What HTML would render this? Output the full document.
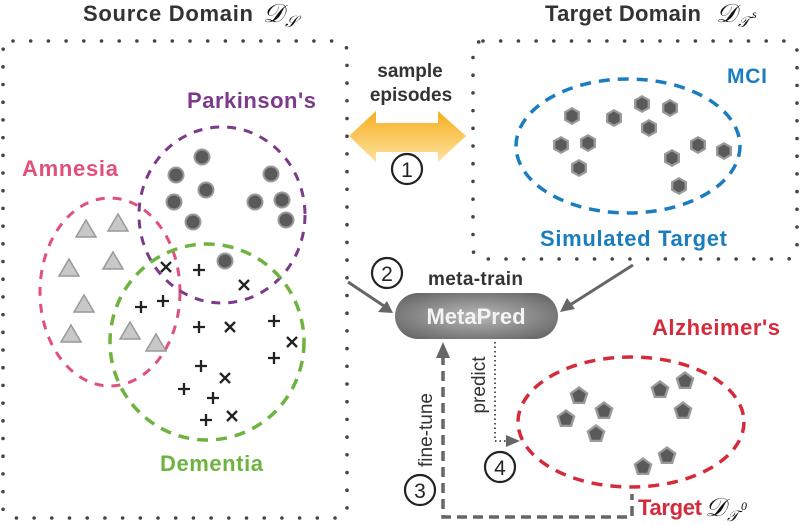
<!DOCTYPE html>
<html><head><meta charset="utf-8"><style>
html,body{margin:0;padding:0;background:#fff;}
svg{display:block;}
text{font-family:"Liberation Sans",sans-serif;font-weight:bold;}
.m{font-family:"Liberation Serif",serif;font-style:italic;font-weight:normal;}
.n{font-weight:normal;}
</style></head><body>
<svg width="800" height="525" viewBox="0 0 800 525" xmlns="http://www.w3.org/2000/svg">
<defs>
<linearGradient id="og" x1="0" y1="0" x2="0" y2="1"><stop offset="0" stop-color="#f6ad1e"/><stop offset="1" stop-color="#fde3a0"/></linearGradient>
<radialGradient id="pg" cx="0.5" cy="0.5" r="0.6"><stop offset="0" stop-color="#b8b8b8"/><stop offset="1" stop-color="#6a6a6a"/></radialGradient>
<g id="hex"><polygon points="0,-9 8,-4.5 8,4.5 0,9 -8,4.5 -8,-4.5" fill="#9a9a9a"/><polygon points="0,-6.5 5.6,-3.2 5.6,3.2 0,6.5 -5.6,3.2 -5.6,-3.2" fill="#5a5a5a"/></g>
<g id="pent"><polygon points="0,-10 9.5,-3 6,8 -6,8 -9.5,-3" fill="#9a9a9a"/><polygon points="0,-7 6.7,-2.2 4.2,5.8 -4.2,5.8 -6.7,-2.2" fill="#5a5a5a"/></g>
<g id="dot"><circle r="8.5" fill="#9a9a9a"/><circle r="6.5" fill="#5a5a5a"/></g>
<g id="tri"><polygon points="0,-9 10,8 -10,8" fill="#c8c8c8" stroke="#999" stroke-width="1.5"/></g>
<g id="pl"><path d="M-6,0H6M0,-6V6" stroke="#222" stroke-width="2.3"/></g>
<g id="xx"><path d="M-5,-5L5,5M5,-5L-5,5" stroke="#222" stroke-width="2.3"/></g>
</defs>

<rect x="3" y="41" width="344" height="477" rx="10" fill="none" stroke="#444" stroke-width="3.6" stroke-linecap="round" stroke-dasharray="0 17.7"/>
<rect x="473" y="41" width="324" height="218" rx="10" fill="none" stroke="#444" stroke-width="3.6" stroke-linecap="round" stroke-dasharray="0 17.7"/>

<text x="83" y="21" font-size="22" fill="#333" textLength="170">Source Domain</text>
<text x="263" y="22" class="m" font-size="26" fill="#111">𝒟</text><text x="285" y="27" class="m" font-size="16" fill="#111">𝒮</text>
<text x="545" y="21" font-size="22" fill="#333" textLength="156">Target Domain</text>
<text x="716" y="22" class="m" font-size="26" fill="#111">𝒟</text><text x="738" y="27" class="m" font-size="15" fill="#111">𝒯</text><text x="752" y="18" class="m" font-size="12" fill="#111">s</text>

<polygon points="349,136 376,111 376,123 438,123 438,111 466,136 438,162 438,152 376,152 376,162" fill="url(#og)"/>
<text x="410" y="77" font-size="19" fill="#333" text-anchor="middle">sample</text>
<text x="411" y="101" font-size="19" fill="#333" text-anchor="middle">episodes</text>

<ellipse cx="110" cy="292" rx="70" ry="94" fill="none" stroke="#e0507a" stroke-width="3" stroke-dasharray="9 8"/>
<ellipse cx="222" cy="215" rx="83" ry="88" fill="none" stroke="#7b3a8a" stroke-width="3" stroke-dasharray="9 8"/>
<ellipse cx="207" cy="342" rx="97" ry="98" fill="none" stroke="#6db33f" stroke-width="3.5" stroke-dasharray="11 8"/>

<text x="187" y="108" font-size="22" fill="#7b3a8a" textLength="129">Parkinson's</text>
<text x="22" y="176" font-size="22" fill="#e0507a" textLength="96">Amnesia</text>
<text x="160" y="471" font-size="22" fill="#6db33f" textLength="103">Dementia</text>

<use href="#dot" x="202" y="157"/><use href="#dot" x="176" y="175"/><use href="#dot" x="206" y="190"/>
<use href="#dot" x="174" y="202"/><use href="#dot" x="193" y="222"/><use href="#dot" x="271" y="174"/>
<use href="#dot" x="255" y="202"/><use href="#dot" x="282" y="200"/><use href="#dot" x="286" y="220"/>
<use href="#dot" x="225" y="261"/>

<use href="#tri" x="86" y="229"/><use href="#tri" x="118" y="223"/><use href="#tri" x="69" y="268"/>
<use href="#tri" x="113" y="261"/><use href="#tri" x="84" y="304"/><use href="#tri" x="71" y="334"/>
<use href="#tri" x="130" y="331"/><use href="#tri" x="156" y="343"/>

<use href="#xx" x="166" y="267"/><use href="#pl" x="199" y="270"/><use href="#xx" x="244" y="285"/>
<use href="#pl" x="141" y="307"/><use href="#pl" x="163" y="301"/><use href="#pl" x="199" y="327"/>
<use href="#xx" x="230" y="327"/><use href="#pl" x="274" y="321"/><use href="#xx" x="292" y="342"/>
<use href="#pl" x="274" y="358"/><use href="#pl" x="201" y="366"/><use href="#xx" x="225" y="378"/>
<use href="#pl" x="184" y="389"/><use href="#pl" x="213" y="398"/><use href="#pl" x="206" y="420"/>
<use href="#xx" x="232" y="416"/>

<ellipse cx="628" cy="146" rx="112" ry="67" fill="none" stroke="#1a7dbf" stroke-width="3.5" stroke-dasharray="11 8"/>
<text x="727" y="83" font-size="21" fill="#1a7dbf" textLength="40">MCI</text>
<text x="540" y="246" font-size="22" fill="#1a7dbf" textLength="187">Simulated Target</text>
<use href="#hex" x="572" y="116"/><use href="#hex" x="614" y="118"/><use href="#hex" x="642" y="104"/>
<use href="#hex" x="670" y="108"/><use href="#hex" x="649" y="128"/><use href="#hex" x="561" y="145"/>
<use href="#hex" x="588" y="143"/><use href="#hex" x="579" y="168"/><use href="#hex" x="672" y="158"/>
<use href="#hex" x="698" y="145"/><use href="#hex" x="724" y="151"/><use href="#hex" x="679" y="186"/>

<ellipse cx="631" cy="422" rx="113" ry="65" fill="none" stroke="#d42a3a" stroke-width="3.5" stroke-dasharray="11 8"/>
<text x="652" y="335" font-size="22" fill="#d42a3a" textLength="128">Alzheimer's</text>
<text x="638" y="515" font-size="22" fill="#d42a3a" textLength="64">Target</text>
<text x="705" y="516" class="m" font-size="26" fill="#111">𝒟</text><text x="727" y="521" class="m" font-size="15" fill="#111">𝒯</text><text x="741" y="510" class="m" font-size="12" fill="#111">0</text>
<use href="#pent" x="579" y="396"/><use href="#pent" x="566" y="419"/><use href="#pent" x="604" y="411"/>
<use href="#pent" x="596" y="434"/><use href="#pent" x="660" y="390"/><use href="#pent" x="685" y="381"/>
<use href="#pent" x="683" y="411"/><use href="#pent" x="667" y="456"/><use href="#pent" x="643" y="467"/>

<rect x="395" y="293" width="163" height="46" rx="23" fill="url(#pg)"/>
<text x="476" y="324" font-size="22" fill="#f4f4f4" text-anchor="middle">MetaPred</text>
<text x="428" y="285" font-size="19" fill="#333" textLength="95">meta-train</text>

<path d="M348,282 L384,306" stroke="#666" stroke-width="3"/>
<polygon points="393,313 378,312 387,301" fill="#666"/>
<path d="M633,265 L570,305" stroke="#666" stroke-width="3"/>
<polygon points="560,312 567,298 575,309" fill="#666"/>

<path d="M443,355 V517 H632 V494" fill="none" stroke="#666" stroke-width="3.5" stroke-dasharray="10 6"/>
<polygon points="443,342 436,358 450,358" fill="#666"/>
<text transform="translate(432,430) rotate(-90)" font-size="19" fill="#333" text-anchor="middle" class="n">fine-tune</text>

<path d="M495,342 V441 H508" fill="none" stroke="#555" stroke-width="2" stroke-dasharray="1.5 3"/>
<polygon points="520,441 506,435 506,447" fill="#666"/>
<text transform="translate(485,385) rotate(-90)" font-size="19" fill="#333" text-anchor="middle" class="n">predict</text>

<g fill="none" stroke="#222" stroke-width="2.2">
<circle cx="407" cy="169" r="15"/><circle cx="387" cy="273" r="15"/>
<circle cx="420" cy="490" r="15"/><circle cx="500" cy="467" r="15"/>
</g>
<g font-size="21" fill="#222" text-anchor="middle">
<text x="407" y="177" class="n">1</text><text x="387" y="281" class="n">2</text>
<text x="420" y="498" class="n">3</text><text x="500" y="475" class="n">4</text>
</g>
</svg>
</body></html>
